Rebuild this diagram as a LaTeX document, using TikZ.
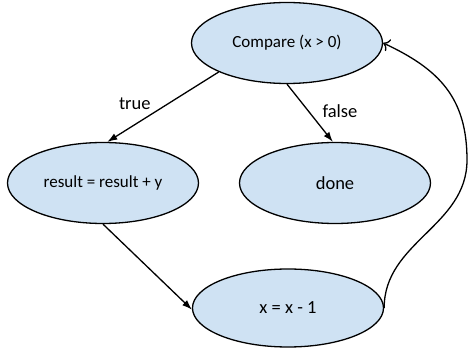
\documentclass[tikz,border=0pt]{standalone}
\usepackage{fontspec}
\setmainfont{Carlito}
\usetikzlibrary{shapes.geometric,arrows.meta}
\definecolor{stepblue}{RGB}{207,226,243}
\tikzset{
  state/.style={ellipse,draw=black,fill=stepblue,line width=1.3pt,inner sep=0pt,
    minimum width=191pt,minimum height=81pt},
  small/.style={font=\fontsize{17}{20}\selectfont},
  big/.style={font=\fontsize{18.5}{22}\selectfont},
  flow/.style={line width=1.3pt,-{Latex[length=10pt,width=7pt]}},
  back/.style={line width=1.3pt,-{To[length=6pt,width=13pt]}}
}
\begin{document}
\begin{tikzpicture}[x=1pt,y=1pt]
    \useasboundingbox (0,0) rectangle (469,348);
    \node[state,small] (cmp) at (287,305) {Compare (x > 0)};
    \node[state,small] (res) at (103,165) {result = result + y};
    \node[state,big] (done) at (335,165) {done};
    \node[state,big,minimum height=78pt] (dec) at (288,40) {x = x - 1};
    \coordinate (bend) at (467,188);
    \draw[flow] (cmp.203) -- node[big,pos=0.45,anchor=east,xshift=-14pt] {true} (res.84);
    \draw[flow] (cmp.270) -- node[big,pos=0.47,anchor=west,xshift=10pt] {false} (done.93);
    \draw[flow] (res.270) -- (dec.181);
    \draw[back] (dec.east) to[out=90,in=-90] (bend) to[out=90,in=-25,looseness=1.1] (cmp.east);
   \end{tikzpicture}
\end{document}
